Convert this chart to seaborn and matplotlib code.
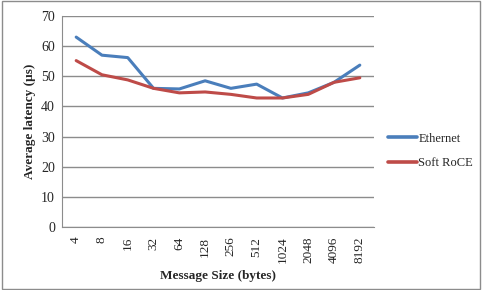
import matplotlib
matplotlib.use("Agg")
import matplotlib.pyplot as plt
import pandas as pd
import seaborn as sns

sizes = ["4", "8", "16", "32", "64", "128", "256", "512", "1024", "2048", "4096", "8192"]
ethernet = [63.0, 57.0, 56.2, 46.0, 45.8, 48.5, 46.0, 47.4, 42.8, 44.5, 48.0, 53.7]
softroce = [55.2, 50.5, 48.8, 46.0, 44.5, 44.8, 44.0, 42.8, 42.8, 44.0, 48.0, 49.5]

df = pd.concat([
    pd.DataFrame({"size": sizes, "latency": ethernet, "series": "Ethernet"}),
    pd.DataFrame({"size": sizes, "latency": softroce, "series": "Soft RoCE"}),
])
df["pos"] = df["size"].map({s: i for i, s in enumerate(sizes)})

sns.set_style("white")
plt.rcParams["font.family"] = ["Liberation Serif", "DejaVu Serif"]

fig = plt.figure(figsize=(4.83, 2.90), dpi=100)
ax = fig.add_axes([62 / 483, 1 - 227 / 290, (374 - 62) / 483, (227 - 16) / 290])

sns.lineplot(data=df, x="pos", y="latency", hue="series", sort=False,
             palette={"Ethernet": "#4a7ebb", "Soft RoCE": "#be4b48"},
             linewidth=2.2, ax=ax, legend=True)

ax.set_xlim(-0.55, len(sizes) - 0.45)
ax.set_ylim(0, 70)
ax.set_yticks(range(0, 71, 10))
ax.set_xticks(range(len(sizes)))
ax.set_xticklabels(sizes, rotation=90, fontsize=9.5)
ax.tick_params(axis="y", labelsize=10, length=3, color="#8c8c8c", pad=2)
ax.tick_params(axis="x", length=0, pad=7)
ax.yaxis.grid(True, color="#8c8c8c", linewidth=1.0)
ax.set_axisbelow(True)
for side in ["top", "right"]:
    ax.spines[side].set_visible(False)
for side in ["left", "bottom"]:
    ax.spines[side].set_color("#8c8c8c")
ax.set_xlabel("Message Size (bytes)", fontsize=9.5, fontweight="bold", labelpad=5)
ax.set_ylabel("Average latency (\u00b5s)", fontsize=9.5, fontweight="bold", labelpad=4)

leg = ax.legend(loc="center left", bbox_to_anchor=(1.01, 0.36), frameon=False,
                fontsize=9, handlelength=2.3, handletextpad=0.1, labelspacing=1.0)
for line in leg.get_lines():
    line.set_linewidth(2.6)

fig.patches.append(plt.Rectangle((0.004, 0.004), 0.99, 0.992, transform=fig.transFigure,
                                 fill=False, edgecolor="#8c8c8c", linewidth=1.0))

fig.savefig("out.png", dpi=100)
